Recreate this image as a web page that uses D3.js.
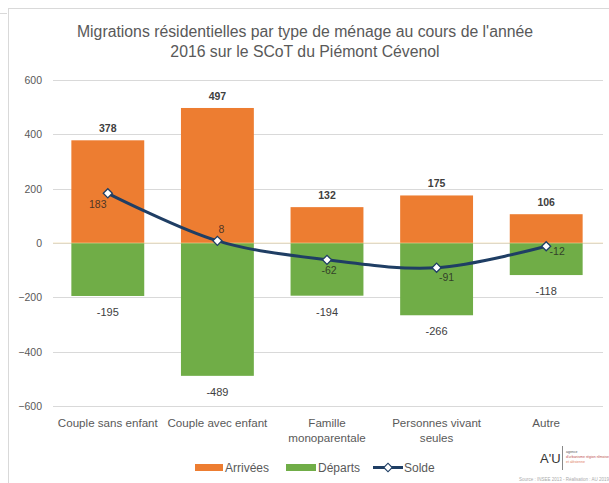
<!DOCTYPE html>
<html><head><meta charset="utf-8">
<script src="https://cdn.jsdelivr.net/npm/d3@7"></script>
<style>body{margin:0;background:#fff}svg{display:block}</style>
</head><body>
<script>
const categories = [["Couple sans enfant"],["Couple avec enfant"],["Famille","monoparentale"],["Personnes vivant","seules"],["Autre"]];
const arrivees = [378, 497, 132, 175, 106];
const departs = [-195, -489, -194, -266, -118];
const solde = [183, 8, -62, -91, -12];
const yTicks = [-600, -400, -200, 0, 200, 400, 600];
const soldeOffsets = [[-10, 15], [4, -8], [2, 14], [10, 13], [11, 9]];

const W = 609, H = 483;
const font = "'Liberation Sans', Arial, sans-serif";
const svg = d3.select("body").append("svg").attr("width", W).attr("height", H);

// frame
svg.append("rect").attr("x", 8.5).attr("y", 8.5).attr("width", 640).attr("height", 520)
  .attr("fill", "none").attr("stroke", "#d9d9d9");
svg.append("line").attr("x1", 0).attr("x2", 7).attr("y1", 13.5).attr("y2", 13.5).attr("stroke", "#d9d9d9");

// title
const title = svg.append("text").attr("text-anchor", "middle").attr("fill", "#595959")
  .style("font-family", font).style("font-size", "15.8px");
title.append("tspan").attr("x", 305).attr("y", 37).text("Migrations résidentielles par type de ménage au cours de l'année");
title.append("tspan").attr("x", 305).attr("y", 57).text("2016 sur le SCoT du Piémont Cévenol");

const idx = d3.range(categories.length);
const x = d3.scaleBand().domain(idx).range([53, 601]).paddingInner(0.335).paddingOuter(0.1675);
const y = d3.scaleLinear().domain([-600, 600]).range([406, 80]);

// gridlines
svg.append("g").selectAll("line").data(yTicks).join("line")
  .attr("x1", 53).attr("x2", 603).attr("y1", d => Math.round(y(d)) + 0.5).attr("y2", d => Math.round(y(d)) + 0.5)
  .attr("stroke", "#d9d9d9").attr("stroke-width", 1);

// y axis labels
const yAxis = d3.axisLeft(y).tickValues(yTicks).tickSize(0).tickPadding(0);
const ga = svg.append("g").attr("transform", "translate(42,0)").call(yAxis);
ga.select(".domain").remove();
ga.selectAll("text").attr("fill", "#595959").style("font-family", font).style("font-size", "10.5px");

// bars
svg.append("g").selectAll("rect").data(idx).join("rect")
  .attr("x", i => x(i)).attr("width", x.bandwidth())
  .attr("y", i => y(arrivees[i])).attr("height", i => y(0) - y(arrivees[i]))
  .attr("fill", "#ed7d31");
svg.append("g").selectAll("rect").data(idx).join("rect")
  .attr("x", i => x(i)).attr("width", x.bandwidth())
  .attr("y", i => y(0)).attr("height", i => y(departs[i]) - y(0))
  .attr("fill", "#70ad47");
svg.append("line").attr("x1", 53).attr("x2", 603).attr("y1", y(0)).attr("y2", y(0))
  .attr("stroke", "#f2d9a0").attr("stroke-width", 1).attr("opacity", 0.6);

// bar labels
svg.append("g").selectAll("text").data(idx).join("text")
  .attr("x", i => x(i) + x.bandwidth() / 2).attr("y", i => y(arrivees[i]) - 8)
  .attr("text-anchor", "middle").attr("fill", "#404040").style("font-weight", "bold")
  .style("font-family", font).style("font-size", "10.5px").text(i => arrivees[i]);
svg.append("g").selectAll("text").data(idx).join("text")
  .attr("x", i => x(i) + x.bandwidth() / 2).attr("y", i => y(departs[i]) + 20)
  .attr("text-anchor", "middle").attr("fill", "#404040")
  .style("font-family", font).style("font-size", "11px").text(i => departs[i]);

// solde line
const cx = i => x(i) + x.bandwidth() / 2;
svg.append("path").datum(idx)
  .attr("d", d3.line().x(cx).y(i => y(solde[i])).curve(d3.curveCatmullRom.alpha(0.5)))
  .attr("fill", "none").attr("stroke", "#1f3e64").attr("stroke-width", 3);
svg.append("g").selectAll("path").data(idx).join("path")
  .attr("transform", i => `translate(${cx(i)},${y(solde[i])}) rotate(45)`)
  .attr("d", "M-3.2,-3.2h6.4v6.4h-6.4z").attr("fill", "#fff").attr("stroke", "#1f3e64").attr("stroke-width", 1.3);
svg.append("g").selectAll("text").data(idx).join("text")
  .attr("x", i => cx(i) + soldeOffsets[i][0]).attr("y", i => y(solde[i]) + soldeOffsets[i][1])
  .attr("text-anchor", "middle").attr("fill", "#222").attr("fill-opacity", 0.8)
  .style("font-family", font).style("font-size", "10.5px").text(i => solde[i]);

// category labels
const cl = svg.append("g").selectAll("text").data(idx).join("text")
  .attr("text-anchor", "middle").attr("fill", "#595959")
  .style("font-family", font).style("font-size", "11.6px");
cl.each(function(i) {
  const t = d3.select(this);
  categories[i].forEach((s, k) => t.append("tspan").attr("x", cx(i)).attr("y", 427 + k * 15).text(s));
});

// legend
const leg = svg.append("g").style("font-family", font).style("font-size", "12px").attr("fill", "#595959");
leg.append("rect").attr("x", 195).attr("y", 464).attr("width", 28).attr("height", 7).attr("fill", "#ed7d31");
leg.append("text").attr("x", 225).attr("y", 471.5).text("Arrivées");
leg.append("rect").attr("x", 286).attr("y", 464).attr("width", 30).attr("height", 7).attr("fill", "#70ad47");
leg.append("text").attr("x", 318).attr("y", 471.5).text("Départs");
leg.append("line").attr("x1", 373).attr("x2", 403).attr("y1", 467.5).attr("y2", 467.5).attr("stroke", "#1f3e64").attr("stroke-width", 3);
leg.append("path").attr("transform", "translate(388,467.5) rotate(45)").attr("d", "M-3,-3h6v6h-6z")
  .attr("fill", "#fff").attr("stroke", "#1f3e64").attr("stroke-width", 1.2);
leg.append("text").attr("x", 404).attr("y", 471.5).text("Solde");

// logo
svg.append("text").attr("x", 540).attr("y", 463).attr("fill", "#333").style("font-family", font)
  .style("font-size", "13px").text("A'U");
svg.append("line").attr("x1", 562.5).attr("x2", 562.5).attr("y1", 446).attr("y2", 470).attr("stroke", "#888");
const lg = svg.append("g").style("font-family", font).style("font-size", "3.5px");
lg.append("text").attr("x", 566).attr("y", 453).attr("fill", "#555").text("agence");
lg.append("text").attr("x", 566).attr("y", 458).attr("fill", "#c0504d").text("d'urbanisme région nîmoise");
lg.append("text").attr("x", 566).attr("y", 463).attr("fill", "#e08060").text("et alésienne");
svg.append("text").attr("x", 609).attr("y", 481).attr("text-anchor", "end").attr("fill", "#aaa")
  .style("font-family", font).style("font-size", "4.5px").text("Source : INSEE 2013 - Réalisation : AU 2019");
</script>
</body></html>
